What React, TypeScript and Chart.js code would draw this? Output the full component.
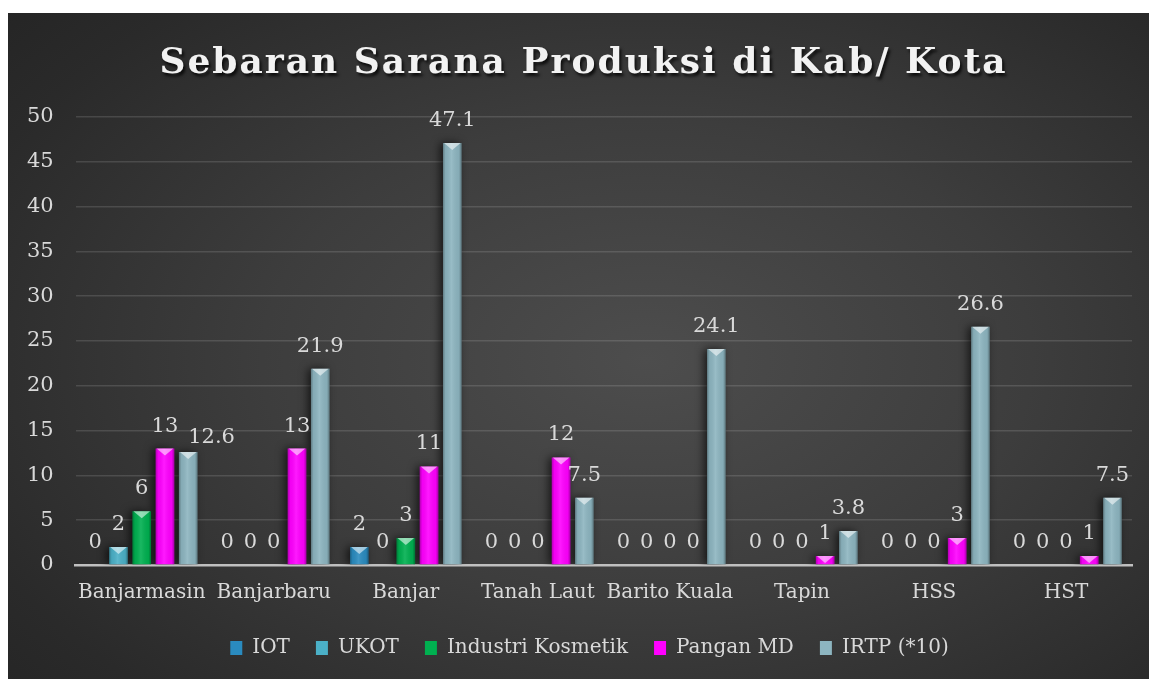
import React, { useEffect, useRef } from "react";
import { Chart, registerables } from "chart.js";

Chart.register(...registerables);

// ---------- data ----------
const categories = [
  "Banjarmasin",
  "Banjarbaru",
  "Banjar",
  "Tanah Laut",
  "Barito Kuala",
  "Tapin",
  "HSS",
  "HST",
];
const iot = [0, 0, 2, 0, 0, 0, 0, 0];
const ukot = [2, 0, 0, 0, 0, 0, 0, 0];
const industriKosmetik = [6, 0, 3, 0, 0, 0, 0, 0];
const panganMD = [13, 13, 11, 12, 0, 1, 3, 1];
const irtp = [12.6, 21.9, 47.1, 7.5, 24.1, 3.8, 26.6, 7.5];
const seriesNames = ["IOT", "UKOT", "Industri Kosmetik", "Pangan MD", "IRTP (*10)"];
const yMin = 0;
const yMax = 50;
const yStep = 5;
const titleText = "Sebaran Sarana Produksi di Kab/ Kota";

// ---------- styles ----------
const seriesColors = ["#2a8bbf", "#4bb0c7", "#00b050", "#ff00ff", "#8db5c0"];
const FONT = "'DejaVu Serif', serif";
const TEXT = "#d9d9d9";

const barLook = {
  id: "barLook",
  beforeDatasetDraw(chart: any) {
    const ctx = chart.ctx;
    ctx.save();
    ctx.shadowColor = "rgba(0,0,0,0.65)";
    ctx.shadowBlur = 8;
    ctx.shadowOffsetX = -3;
    ctx.shadowOffsetY = 0;
  },
  afterDatasetDraw(chart: any, args: any) {
    const ctx = chart.ctx;
    ctx.restore();
    const meta = args.meta;
    ctx.save();
    meta.data.forEach((el: any) => {
      const { x, y, base, width } = el.getProps(["x", "y", "base", "width"], true);
      const top = Math.min(y, base);
      const bottom = Math.max(y, base);
      const h = bottom - top;
      if (h < 0.5) return;
      const l = x - width / 2;
      const r = x + width / 2;
      const g = ctx.createLinearGradient(l, 0, r, 0);
      g.addColorStop(0, "rgba(0,0,0,0.30)");
      g.addColorStop(0.14, "rgba(0,0,0,0.05)");
      g.addColorStop(0.45, "rgba(255,255,255,0.10)");
      g.addColorStop(0.86, "rgba(0,0,0,0.05)");
      g.addColorStop(1, "rgba(0,0,0,0.35)");
      ctx.fillStyle = g;
      ctx.fillRect(l, top, width, h);
      const bev = Math.min(7, h);
      ctx.beginPath();
      ctx.moveTo(l + 1, top);
      ctx.lineTo(r - 1, top);
      ctx.lineTo(x, top + bev);
      ctx.closePath();
      ctx.fillStyle = "rgba(255,255,255,0.55)";
      ctx.fill();
    });
    ctx.restore();
  },
};

const valueLabels = {
  id: "valueLabels",
  afterDatasetsDraw(chart: any) {
    const ctx = chart.ctx;
    ctx.save();
    ctx.font = `21px ${FONT}`;
    ctx.fillStyle = TEXT;
    ctx.textAlign = "left";
    ctx.textBaseline = "alphabetic";
    const placed: Record<number, { l: number; r: number; t: number; b: number }[]> = {};
    chart.data.datasets.forEach((ds: any, di: number) => {
      const meta = chart.getDatasetMeta(di);
      meta.data.forEach((el: any, i: number) => {
        const text = String(ds.data[i]);
        const w = ctx.measureText(text).width;
        let x = el.x - w / 2;
        let bl = el.y - 17;
        let box = { l: x, r: x + w, t: bl - 15, b: bl };
        const prev = placed[i] || (placed[i] = []);
        const hit = prev.some((p) => p.l < box.r && box.l < p.r && p.t < box.b && box.t < p.b);
        if (hit) {
          x = el.x;
          bl = el.y - 9;
          box = { l: x, r: x + w, t: bl - 15, b: bl };
        }
        ctx.fillText(text, x, bl);
        prev.push(box);
      });
    });
    ctx.restore();
  },
};

const legendShift = {
  id: "legendShift",
  afterLayout(chart: any) {
    if (chart.legend) chart.legend.left += 20;
  },
};

export default function App() {
  const ref = useRef<HTMLCanvasElement | null>(null);

  useEffect(() => {
    if (!ref.current) return;
    const values = [iot, ukot, industriKosmetik, panganMD, irtp];
    const chart = new Chart(ref.current, {
      type: "bar",
      data: {
        labels: categories,
        datasets: values.map((v, i) => ({
          label: seriesNames[i],
          data: v,
          backgroundColor: seriesColors[i],
          borderWidth: 0,
          categoryPercentage: 0.88,
          barPercentage: 0.8,
        })),
      },
      options: {
        responsive: false,
        animation: false,
        devicePixelRatio: 1,
        layout: { padding: { top: 104, left: 19, right: 17, bottom: 11 } },
        plugins: {
          title: { display: false },
          tooltip: { enabled: false },
          legend: {
            position: "bottom",
            labels: {
              color: TEXT,
              font: { family: FONT, size: 20 },
              boxWidth: 12,
              boxHeight: 14,
              padding: 26,
            },
          },
        },
        scales: {
          x: {
            grid: { display: false, drawTicks: false },
            border: { display: true, color: "#c0c0c0", width: 2.5 },
            ticks: {
              color: TEXT,
              font: { family: FONT, size: 20 },
              padding: 16,
              maxRotation: 0,
              autoSkip: false,
            },
            afterFit: (scale: any) => {
              scale.height = 47;
              scale.paddingLeft = 0;
              scale.paddingRight = 0;
            },
          },
          y: {
            min: yMin,
            max: yMax,
            grid: { color: "rgba(255,255,255,0.13)", lineWidth: 1.5, drawTicks: false },
            border: { display: false },
            ticks: { stepSize: yStep, color: TEXT, font: { family: FONT, size: 21 }, padding: 22 },
            afterFit: (scale: any) => {
              scale.width -= scale.options.ticks.padding;
            },
          },
        },
      },
      plugins: [barLook, valueLabels, legendShift],
    });
    return () => chart.destroy();
  }, []);

  return (
    <div
      style={{
        position: "absolute",
        left: 8,
        top: 13,
        width: 1141,
        height: 666,
        overflow: "hidden",
        background:
          "radial-gradient(ellipse 75% 80% at 56% 52%, #4d4d4d 0%, #3d3d3d 45%, #2a2a2a 85%, #252525 100%)",
      }}
    >
      <div
        style={{
          position: "absolute",
          left: 5,
          top: 20,
          width: 1141,
          textAlign: "center",
          fontFamily: FONT,
          fontWeight: "bold",
          fontSize: 36,
          letterSpacing: 2,
          color: "#f2f2f2",
          textShadow: "2px 3px 3px rgba(0,0,0,0.75)",
          whiteSpace: "nowrap",
          lineHeight: "54px",
        }}
      >
        {titleText}
      </div>
      <canvas ref={ref} width={1141} height={666} style={{ display: "block" }} />
    </div>
  );
}
